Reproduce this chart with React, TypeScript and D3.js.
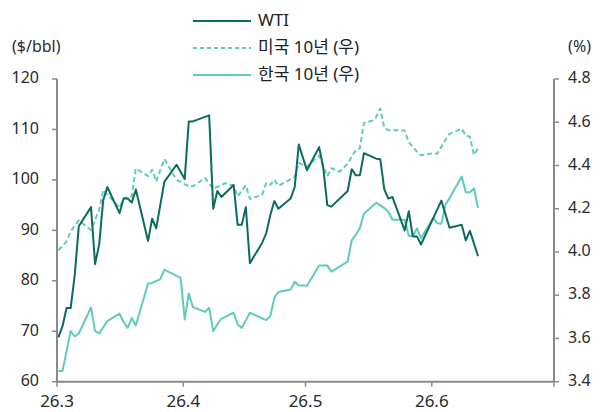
import React from "react";
import * as d3 from "d3";

// Days since 2026-03-01
const wtiDays = [0,1,2,3,4,5,8,9,10,11,12,15,16,17,18,19,22,23,24,26,29,31,32,33,37,38,39,40,43,44,45,46,47,50,51,52,53,54,57,58,59,61,64,65,66,67,71,72,73,74,75,78,79,80,81,82,85,86,87,88,89,94,96,99,100,101,103];
const wtiVals = [68.8,71.0,74.6,74.6,81.1,90.8,94.6,83.3,87.2,96.0,98.6,93.4,96.3,96.3,95.5,98.1,87.9,92.3,90.4,99.6,103.0,100.2,111.6,111.6,112.8,94.3,97.8,96.6,99.0,91.1,91.1,94.6,83.5,87.5,89.4,93.0,95.8,94.3,96.3,98.6,107.0,101.9,106.5,102.5,95.0,94.7,97.8,102.1,100.9,100.9,105.3,104.2,104.1,98.1,96.3,96.6,90.0,93.8,88.8,88.8,87.2,95.9,90.5,91.1,88.0,89.9,84.9];

const usDays = [0,2,3,5,8,10,11,15,16,18,19,22,23,24,26,29,32,33,36,38,41,43,44,46,47,50,51,52,53,54,58,59,61,64,66,67,69,71,73,74,75,77,78,79,80,81,85,86,87,88,89,92,93,94,95,96,99,100,101,102,103];
const usVals = [4.008,4.049,4.095,4.146,4.101,4.195,4.287,4.204,4.249,4.257,4.386,4.351,4.380,4.326,4.430,4.334,4.304,4.304,4.342,4.292,4.318,4.306,4.257,4.308,4.245,4.264,4.318,4.310,4.334,4.306,4.346,4.412,4.394,4.445,4.350,4.388,4.371,4.408,4.472,4.480,4.597,4.607,4.624,4.663,4.574,4.563,4.562,4.507,4.487,4.464,4.447,4.457,4.454,4.486,4.519,4.546,4.570,4.539,4.533,4.449,4.480];

const krDays = [0,1,3,4,5,8,9,10,12,15,16,17,18,19,22,23,25,26,30,31,32,33,36,37,38,39,40,43,44,45,47,51,52,53,54,57,58,59,61,64,66,67,71,72,73,74,75,78,80,81,82,85,86,87,88,89,92,93,94,95,96,99,100,101,102,103];
const krVals = [3.449,3.449,3.634,3.609,3.623,3.743,3.634,3.623,3.680,3.715,3.676,3.649,3.695,3.660,3.854,3.857,3.874,3.918,3.880,3.688,3.808,3.745,3.723,3.742,3.634,3.665,3.691,3.719,3.665,3.649,3.719,3.685,3.703,3.789,3.815,3.826,3.862,3.846,3.844,3.937,3.937,3.909,3.955,4.054,4.080,4.111,4.177,4.228,4.203,4.186,4.149,4.149,4.074,4.074,4.109,4.064,4.157,4.133,4.131,4.218,4.249,4.349,4.276,4.276,4.294,4.203];

const xTickDays = [0, 31, 61, 92, 122];
const xTickLabels = ["26.3", "26.4", "26.5", "26.6", ""];
const leftTicks = [60, 70, 80, 90, 100, 110, 120];
const rightTicks = [3.4, 3.6, 3.8, 4.0, 4.2, 4.4, 4.6, 4.8];

const seriesNames = ["WTI", "미국 10년 (우)", "한국 10년 (우)"];

const DARK = "#0b6b5d";
const LIGHT = "#5fcbbb";
const AXIS = "#8a8a8a";
const FONT = "'Noto Sans', 'Noto Sans CJK KR', sans-serif";

export default function App() {
  const W = 600, H = 412;
  const left = 57, right = 554, top = 79, bottom = 381.7;
  const x = d3.scaleLinear().domain([0, 122]).range([left, right]);
  const yL = d3.scaleLinear().domain([60, 120]).range([bottom, top]);
  const yR = d3.scaleLinear().domain([3.4, 4.8]).range([bottom, top]);
  const off = 0.35;

  const mk = (days: number[], vals: number[], y: d3.ScaleLinear<number, number>) =>
    d3.line<number>().x((_, i) => x(days[i] + off)).y((v) => y(v))(vals) || "";

  const wtiPath = mk(wtiDays, wtiVals, yL);
  const usPath = mk(usDays, usVals, yR);
  const krPath = mk(krDays, krVals, yR);

  const legendY = [21, 48, 75];
  const legendStyles = [
    { stroke: DARK, dash: undefined },
    { stroke: LIGHT, dash: "4 3" },
    { stroke: LIGHT, dash: undefined },
  ];

  return (
    <svg width={W} height={H} style={{ position: "absolute", left: 0, top: 0, background: "#fff" }} fontFamily={FONT}>
      <rect width={W} height={H} fill="#fff" />
      {/* Axis titles */}
      <text x={12} y={48} fontSize={16} fill="#2a2a2a" dominantBaseline="middle">($/bbl)</text>
      <text x={591} y={48} fontSize={16} fill="#2a2a2a" textAnchor="end" dominantBaseline="middle">(%)</text>

      {/* Legend */}
      {seriesNames.map((n, i) => (
        <g key={n}>
          <line x1={193} x2={251} y1={legendY[i]} y2={legendY[i]} stroke={legendStyles[i].stroke} strokeWidth={2} strokeDasharray={legendStyles[i].dash} />
          <text x={258} y={legendY[i]} fontSize={17} fill="#222" dominantBaseline="middle">{n}</text>
        </g>
      ))}

      {/* Left axis */}
      <line x1={left} x2={left} y1={top} y2={bottom} stroke={AXIS} strokeWidth={2} />
      {leftTicks.map((t) => (
        <g key={"l" + t}>
          <line x1={left - 5} x2={left} y1={yL(t)} y2={yL(t)} stroke={AXIS} strokeWidth={1.5} />
          <text x={39} y={yL(t)} fontSize={16} fill="#2a2a2a" textAnchor="end" dominantBaseline="middle">{t}</text>
        </g>
      ))}

      {/* Right axis */}
      <line x1={right} x2={right} y1={top} y2={bottom} stroke={AXIS} strokeWidth={2} />
      {rightTicks.map((t) => (
        <g key={"r" + t}>
          <line x1={right} x2={right + 5} y1={yR(t)} y2={yR(t)} stroke={AXIS} strokeWidth={1.5} />
          <text x={568} y={yR(t)} fontSize={16} fill="#2a2a2a" dominantBaseline="middle">{d3.format(".1f")(t)}</text>
        </g>
      ))}

      {/* Bottom axis */}
      <line x1={left} x2={right} y1={bottom} y2={bottom} stroke={AXIS} strokeWidth={2} />
      {xTickDays.map((d, i) => (
        <g key={"x" + d}>
          <line x1={x(d)} x2={x(d)} y1={bottom} y2={bottom + 5} stroke={AXIS} strokeWidth={1.5} />
          <text x={x(d)} y={402} fontSize={17} fill="#2a2a2a" textAnchor="middle" dominantBaseline="middle">{xTickLabels[i]}</text>
        </g>
      ))}

      {/* Series */}
      <path d={krPath} fill="none" stroke={LIGHT} strokeWidth={2} strokeLinejoin="round" />
      <path d={usPath} fill="none" stroke={LIGHT} strokeWidth={2} strokeDasharray="5 3" strokeLinejoin="round" />
      <path d={wtiPath} fill="none" stroke={DARK} strokeWidth={2} strokeLinejoin="round" />
    </svg>
  );
}
